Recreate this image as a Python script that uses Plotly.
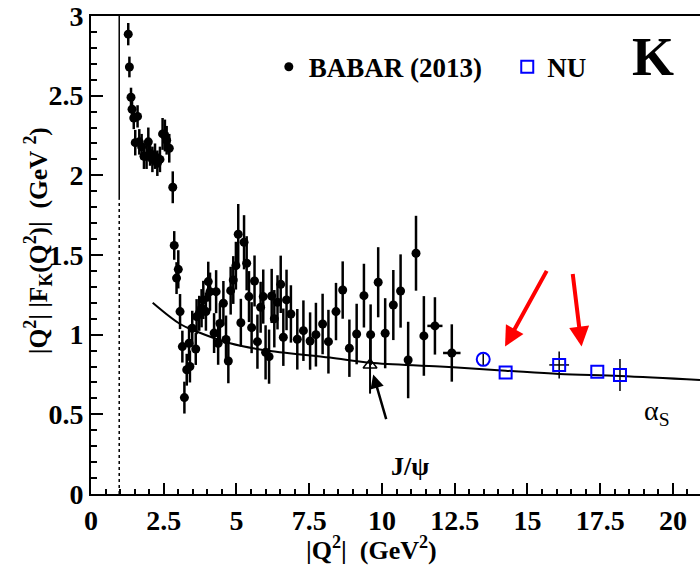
#!/usr/bin/env python3
"""
Kaon form factor |Q^2||F_K(Q^2)| vs |Q^2|: BABAR (2013) points, NU points
and the alpha_s prediction curve.
"""

import plotly.graph_objects as go

FONT = "Liberation Serif"

# BABAR (2013) points
BABAR_Q2 = [1.28, 1.32, 1.375, 1.41, 1.47, 1.52, 1.60, 1.66, 1.74, 1.82,
            1.91, 1.97, 2.03, 2.11, 2.20, 2.28, 2.37, 2.46, 2.54, 2.60,
            2.69, 2.81, 2.86, 2.94, 3.00, 3.06, 3.14, 3.21, 3.29, 3.37,
            3.40, 3.48, 3.60, 3.63, 3.72, 3.80, 3.86, 3.95, 4.03, 4.09,
            4.23, 4.30, 4.37, 4.43, 4.55, 4.64, 4.72, 4.80, 4.89, 4.98,
            5.06, 5.15, 5.26, 5.35, 5.43, 5.52, 5.62, 5.72, 5.83, 5.92,
            6.00, 6.12, 6.21, 6.30, 6.41, 6.52, 6.61, 6.72, 6.87, 7.09,
            7.30, 7.53, 7.73, 7.96, 8.16, 8.42, 8.65, 8.88, 9.13, 9.38,
            9.61, 9.87, 10.11, 10.39, 10.64, 10.90, 11.17, 11.44, 11.82, 12.40]
BABAR_VAL = [2.886, 2.68, 2.49, 2.415, 2.36, 2.205, 2.37, 2.21, 2.18, 2.12,
             2.12, 2.21, 2.14, 2.10, 2.12, 2.076, 2.10, 2.26, 2.25, 2.22,
             2.17, 1.925, 1.56, 1.355, 1.41, 1.145, 0.925, 0.605, 0.78, 0.946,
             0.80, 1.04, 0.91, 1.113, 1.134, 1.166, 1.218, 1.145, 1.333, 1.27,
             1.01, 1.27, 0.946, 1.07, 1.197, 0.97, 0.835, 1.276, 1.343, 1.433,
             1.63, 1.075, 1.58, 1.448, 1.239, 1.044, 1.337, 0.956, 1.172, 1.239,
             0.889, 0.862, 1.243, 1.10, 1.203, 1.316, 0.984, 1.218, 1.13, 0.971,
             1.025, 0.96, 1.0, 1.067, 0.956, 1.145, 1.28, 0.915, 1.004, 1.245,
             1.0, 1.329, 1.009, 1.186, 1.274, 0.841, 1.511, 0.992, 1.055, 0.885]
BABAR_ERR = [0.07, 0.065, 0.06, 0.07, 0.07, 0.08, 0.07, 0.08, 0.08, 0.08,
             0.08, 0.09, 0.08, 0.08, 0.08, 0.08, 0.08, 0.10, 0.10, 0.09,
             0.09, 0.10, 0.09, 0.10, 0.12, 0.11, 0.10, 0.10, 0.10, 0.11,
             0.10, 0.11, 0.10, 0.11, 0.11, 0.12, 0.12, 0.12, 0.125, 0.12,
             0.125, 0.135, 0.135, 0.125, 0.14, 0.15, 0.14, 0.15, 0.15, 0.15,
             0.19, 0.15, 0.17, 0.17, 0.16, 0.16, 0.16, 0.17, 0.16, 0.17,
             0.17, 0.17, 0.17, 0.18, 0.17, 0.18, 0.18, 0.19, 0.18, 0.19,
             0.19, 0.18, 0.20, 0.19, 0.20, 0.18, 0.18, 0.18, 0.19, 0.20,
             0.19, 0.22, 0.22, 0.22, 0.23, 0.24, 0.235, 0.25, 0.18, 0.18]
BABAR_XERR = [0.0] * 88 + [0.26, 0.30]

# NU points (open squares) and the open circle
NU_Q2 = [14.25, 16.09, 17.40, 18.18]
NU_VAL = [0.762, 0.81, 0.768, 0.747]
NU_ERR = [0.0, 0.085, 0.0, 0.10]
NU_XERR = [0.0, 0.34, 0.0, 0.0]
CIRCLE_Q2 = [13.48]
CIRCLE_VAL = [0.845]
CIRCLE_ERR = [0.035]

# J/psi point (open triangle)
JPSI_Q2 = [9.59]
JPSI_VAL = [0.81]
JPSI_ERR = [0.18]

# alpha_s prediction curve
CURVE_Q2 = [2.12, 3.06, 3.63, 4.78, 5.92, 8.21, 9.59, 11.99, 14.25, 16.09, 18.18, 20.93]
CURVE_VAL = [1.20, 1.067, 1.02, 0.946, 0.904, 0.856, 0.824, 0.80, 0.774, 0.753, 0.741, 0.716]

# K Kbar threshold line: solid above the break, dotted below
THRESHOLD_Q2 = 0.97
THRESHOLD_BREAK = 1.85

# red arrows pointing at the NU points: (tail x, tail y, head x, head y)
RED_ARROWS = [(15.69, 1.41, 14.23, 0.925), (16.55, 1.39, 16.86, 0.925)]


def bold(size, color="black"):
    return dict(family=FONT, size=size, color=color, weight="bold")


fig = go.Figure()

fig.add_trace(go.Scatter(
    x=CURVE_Q2, y=CURVE_VAL, mode="lines",
    line=dict(color="black", width=2, shape="spline"),
    showlegend=False, hoverinfo="skip"
))

fig.add_trace(go.Scatter(
    x=BABAR_Q2, y=BABAR_VAL, mode="markers", name="BABAR (2013)",
    legend="legend",
    marker=dict(symbol="circle", size=9, color="black"),
    error_y=dict(type="data", array=BABAR_ERR, color="black", thickness=2.5, width=0),
    error_x=dict(type="data", array=BABAR_XERR, color="black", thickness=2.5, width=0),
))

fig.add_trace(go.Scatter(
    x=JPSI_Q2, y=JPSI_VAL, mode="markers", showlegend=False,
    marker=dict(symbol="triangle-up-open", size=12, color="black", line=dict(width=1.5)),
    error_y=dict(type="data", array=JPSI_ERR, color="black", thickness=2, width=0),
))

fig.add_trace(go.Scatter(
    x=CIRCLE_Q2, y=CIRCLE_VAL, mode="markers", showlegend=False,
    marker=dict(symbol="circle-open", size=13, color="blue", line=dict(width=2)),
    error_y=dict(type="data", array=CIRCLE_ERR, color="black", thickness=1.5, width=0),
))

fig.add_trace(go.Scatter(
    x=NU_Q2, y=NU_VAL, mode="markers", name="NU",
    legend="legend2",
    marker=dict(symbol="square-open", size=12, color="blue", line=dict(width=2)),
    error_y=dict(type="data", array=NU_ERR, color="black", thickness=1.5, width=0),
    error_x=dict(type="data", array=NU_XERR, color="black", thickness=1.5, width=0),
))

# threshold line
fig.add_shape(type="line", xref="x", yref="y",
              x0=THRESHOLD_Q2, x1=THRESHOLD_Q2, y0=THRESHOLD_BREAK, y1=3,
              line=dict(color="black", width=1.5))
fig.add_shape(type="line", xref="x", yref="y",
              x0=THRESHOLD_Q2, x1=THRESHOLD_Q2, y0=0, y1=THRESHOLD_BREAK,
              line=dict(color="black", width=1.5, dash="dot"))

for tx, ty, hx, hy in RED_ARROWS:
    fig.add_annotation(x=hx, y=hy, ax=tx, ay=ty, xref="x", yref="y",
                       axref="x", ayref="y", text="", showarrow=True,
                       arrowhead=2, arrowsize=1, arrowwidth=4, arrowcolor="red")

# J/psi label with arrow
fig.add_annotation(x=9.70, y=0.75, ax=10.16, ay=0.46, xref="x", yref="y",
                   axref="x", ayref="y", text="", showarrow=True,
                   arrowhead=2, arrowsize=1.1, arrowwidth=2.5, arrowcolor="black")
fig.add_annotation(x=10.96, y=0.17, xref="x", yref="y", text="J/ψ",
                   showarrow=False, font=bold(26))
fig.add_annotation(x=19.45, y=0.51, xref="x", yref="y", text="α<sub>S</sub>",
                   showarrow=False, font=dict(family=FONT, size=28, color="black"))
fig.add_annotation(x=19.31, y=2.745, xref="x", yref="y", text="K",
                   showarrow=False, font=bold(54))

# axis titles as annotations so they sit where the original puts them
fig.add_annotation(x=0.461, y=-0.113, xref="paper", yref="paper",
                   text="|Q<sup>2</sup>|  (GeV<sup>2</sup>)", showarrow=False,
                   font=bold(26), xanchor="center", yanchor="middle")
fig.add_annotation(x=-0.087, y=0.529, xref="paper", yref="paper", textangle=-90,
                   text="|Q<sup>2</sup>| |F<sub>K</sub>(Q<sup>2</sup>)|  (GeV <sup>2</sup>)",
                   showarrow=False, font=bold(25.5), xanchor="center", yanchor="middle")

legend_style = dict(orientation="h", y=0.893, xanchor="left", yanchor="middle",
                    font=bold(27), bgcolor="rgba(0,0,0,0)", itemwidth=30)

fig.update_layout(
    width=700, height=566,
    margin=dict(l=91, r=0, t=16, b=72),
    plot_bgcolor="white", paper_bgcolor="white",
    showlegend=True,
    legend=dict(x=0.292, **legend_style),
    legend2=dict(x=0.6835, **legend_style),
    xaxis=dict(
        range=[0, 20.93], dtick=2.5, tick0=0, automargin=False,
        ticks="inside", ticklen=11, tickwidth=2, tickcolor="black",
        minor=dict(dtick=0.5, ticks="inside", ticklen=5, tickwidth=2, tickcolor="black"),
        showline=True, linewidth=2, linecolor="black", mirror=True,
        showgrid=False, zeroline=False,
        tickfont=bold(28),
    ),
    yaxis=dict(
        range=[0, 3], dtick=0.5, tick0=0, automargin=False,
        ticks="inside", ticklen=12, tickwidth=2, tickcolor="black",
        minor=dict(dtick=0.1, ticks="inside", ticklen=6, tickwidth=2, tickcolor="black"),
        showline=True, linewidth=2, linecolor="black",
        showgrid=False, zeroline=False,
        tickfont=bold(28),
    ),
)

# drop the page's default body margin so the figure fills the window exactly
fig.write_html("out.html", config={"displayModeBar": False},
               post_script="document.body.style.margin = '0';")
